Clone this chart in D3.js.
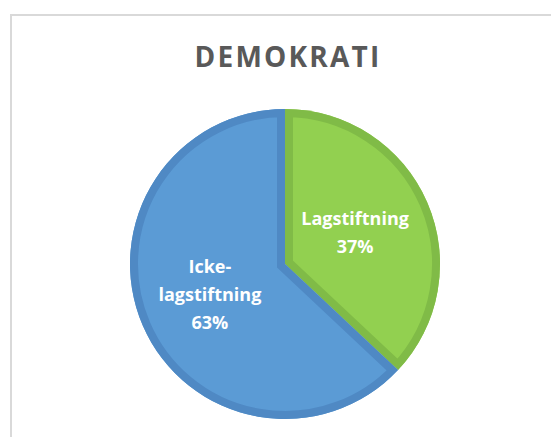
<!DOCTYPE html>
<html lang="sv">
<head>
<meta charset="UTF-8">
<title>Demokrati</title>
<script src="https://d3js.org/d3.v7.min.js"></script>
<style>
  body { margin: 0; background: #fff; }
  svg { display: block; }
</style>
</head>
<body>
<div id="chart"></div>
<script>
// data
var categories = ["Lagstiftning", "Icke-lagstiftning"];
var values = [37, 63];
var labelLines = [["Lagstiftning", "37%"], ["Icke-", "lagstiftning", "63%"]];
var fills = ["#92d050", "#5b9bd5"];
var edges = ["#80bb47", "#4f89c4"];
var title = "DEMOKRATI";

var W = 551, H = 437;
var cx = 285, cy = 264, radius = 155, edgeW = 8;

var svg = d3.select("#chart").append("svg")
    .attr("width", W)
    .attr("height", H);

// chart frame, runs off the right and bottom edge
svg.append("rect")
    .attr("x", 11).attr("y", 15)
    .attr("width", 560).attr("height", 440)
    .attr("fill", "#fff")
    .attr("stroke", "#d9d9d9")
    .attr("stroke-width", 2);

svg.append("text")
    .attr("x", 288)
    .attr("y", 67)
    .attr("text-anchor", "middle")
    .style("font-family", "'Open Sans', sans-serif")
    .style("font-weight", "bold")
    .style("font-size", "28px")
    .style("letter-spacing", "2.2px")
    .attr("fill", "#595959")
    .text(title);

var pie = d3.pie().sort(null).value(function(d) { return d; });
var arcs = pie(values);
var arc = d3.arc().innerRadius(0).outerRadius(radius);

var g = svg.append("g").attr("transform", "translate(" + cx + "," + cy + ")");

var defs = svg.append("defs");
arcs.forEach(function(d, i) {
  defs.append("clipPath").attr("id", "clip" + i)
    .append("path").attr("d", arc(d));
});

var slices = g.selectAll("g.slice")
    .data(arcs)
    .enter().append("g")
    .attr("class", "slice");

slices.append("path")
    .attr("d", arc)
    .attr("fill", function(d, i) { return fills[i]; });

// darker rim drawn on the inside of each slice
slices.append("path")
    .attr("d", arc)
    .attr("fill", "none")
    .attr("stroke", function(d, i) { return edges[i]; })
    .attr("stroke-width", edgeW * 2)
    .attr("stroke-linejoin", "miter")
    .attr("clip-path", function(d, i) { return "url(#clip" + i + ")"; });

var lineH = 28;
slices.each(function(d, i) {
  var c = arc.centroid(d);
  var lines = labelLines[i];
  var t = d3.select(this).append("text")
      .attr("text-anchor", "middle")
      .style("font-family", "'Open Sans', sans-serif")
      .style("font-weight", "bold")
      .style("font-size", "18px")
      .attr("fill", "#fff");
  lines.forEach(function(s, k) {
    t.append("tspan")
      .attr("x", c[0] + (i === 0 ? -1 : -4))
      .attr("y", c[1] + 6 + (k - (lines.length - 1) / 2) * lineH)
      .text(s);
  });
});
</script>
</body>
</html>
